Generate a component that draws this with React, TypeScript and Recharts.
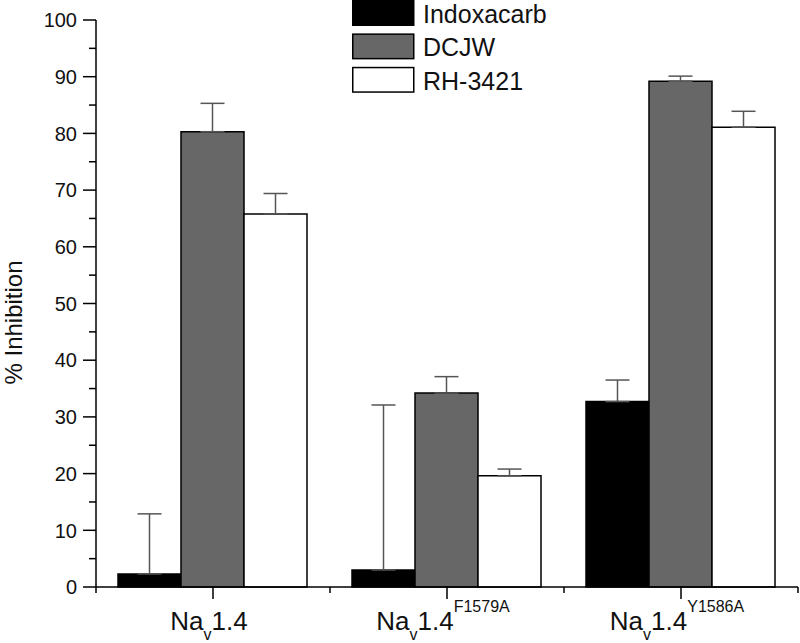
import { BarChart, Bar, XAxis, YAxis, ErrorBar, Legend } from "recharts";

const mutations = ["", "F1579A", "Y1586A"];
const seriesNames = ["Indoxacarb", "DCJW", "RH-3421"];

const indoxacarb = [2.3, 3.0, 32.7];
const indoxacarbErr = [10.6, 29.1, 3.8];
const dcjw = [80.3, 34.2, 89.2];
const dcjwErr = [5.0, 2.9, 0.9];
const rh3421 = [65.8, 19.6, 81.1];
const rh3421Err = [3.6, 1.2, 2.8];

const yTicks = [0, 5, 10, 15, 20, 25, 30, 35, 40, 45, 50, 55, 60, 65, 70, 75, 80, 85, 90, 95, 100];

const data = mutations.map((m, i) => ({
  name: m ? `Nav1.4 ${m}` : "Nav1.4",
  mutation: m,
  indoxacarb: indoxacarb[i],
  indoxacarbErr: [0, indoxacarbErr[i]],
  dcjw: dcjw[i],
  dcjwErr: [0, dcjwErr[i]],
  rh3421: rh3421[i],
  rh3421Err: [0, rh3421Err[i]],
}));

const FONT = "'Liberation Sans', Arial, sans-serif";

const YTick = (props: any) => {
  const { x, y, payload } = props;
  const major = payload.value % 10 === 0;
  return (
    <g>
      <line x1={x - (major ? 13 : 7)} x2={x} y1={y} y2={y} stroke="#000" strokeWidth={1.5} />
      {major && (
        <text x={x - 19} y={y} dy="0.36em" textAnchor="end" fontSize={20} fontFamily={FONT} fill="#111">
          {payload.value}
        </text>
      )}
    </g>
  );
};

// category label plus the short boundary ticks half a band either side
const XTick = (props: any) => {
  const { x, y, index, width, visibleTicksCount } = props;
  const m = mutations[index];
  const half = width / visibleTicksCount / 2;
  const axisY = y - 12;
  const last = index === visibleTicksCount - 1;
  return (
    <g>
      <line x1={x - half} x2={x - half} y1={axisY} y2={axisY + 6} stroke="#000" strokeWidth={1.5} />
      {last && <line x1={x + half} x2={x + half} y1={axisY} y2={axisY + 6} stroke="#000" strokeWidth={1.5} />}
      <text x={x - 4} y={y + 31} textAnchor="middle" fontFamily={FONT} fill="#111" fontSize={26}>
        <tspan>Na</tspan>
        <tspan fontSize={16} dy={10}>v</tspan>
        <tspan fontSize={26} dy={-10}>1.4</tspan>
        {m && (
          <tspan fontSize={16} dy={-18}>
            {m}
          </tspan>
        )}
      </text>
    </g>
  );
};

const LegendContent = (props: any) => {
  const items = [...(props.payload || [])].sort(
    (a: any, b: any) => seriesNames.indexOf(a.value) - seriesNames.indexOf(b.value)
  );
  return (
    <svg width={220} height={100}>
      {items.map((entry: any, i: number) => (
        <g key={entry.value}>
          <rect x={0.75} y={i * 33.4 + 0.75} width={61} height={24.5} fill={entry.color} stroke="#000" strokeWidth={1.5} />
          <text x={71} y={i * 33.4 + 23} fontSize={25} fontFamily={FONT} fill="#111">
            {entry.value}
          </text>
        </g>
      ))}
    </svg>
  );
};

export default function App() {
  return (
    <div style={{ position: "absolute", left: 0, top: 0, background: "#fff" }}>
      <BarChart
        width={800}
        height={643}
        data={data}
        margin={{ top: 20, right: 2, bottom: 0, left: 0 }}
        barCategoryGap={22}
        barGap={0}
      >
        <XAxis
          xAxisId="cat"
          dataKey="name"
          height={56}
          axisLine={{ stroke: "#000", strokeWidth: 1.5 }}
          tickLine={{ stroke: "#000", strokeWidth: 1.5 }}
          tickSize={12}
          tickMargin={0}
          tick={<XTick />}
          interval={0}
        />
        <YAxis
          domain={[0, 100]}
          ticks={yTicks}
          interval={0}
          width={96}
          tickSize={0}
          tickMargin={0}
          tickLine={false}
          axisLine={{ stroke: "#000", strokeWidth: 1.5 }}
          tick={<YTick />}
          label={(p: any) => {
            const vb = p.viewBox;
            const cx = 13;
            const cy = vb.y + vb.height / 2 + 19;
            return (
              <text
                x={cx}
                y={cy}
                transform={`rotate(-90, ${cx}, ${cy})`}
                textAnchor="middle"
                dominantBaseline="central"
                fontSize={24}
                fontFamily={FONT}
                fill="#111"
              >
                % Inhibition
              </text>
            );
          }}
        />
        <Legend
          layout="vertical"
          align="center"
          verticalAlign="middle"
          content={<LegendContent />}
          wrapperStyle={{ left: 352, top: 0, width: 220, height: 100 }}
        />
        <Bar xAxisId="cat" dataKey="indoxacarb" name={seriesNames[0]} fill="#000" stroke="#000" strokeWidth={1.5} isAnimationActive={false}>
          <ErrorBar dataKey="indoxacarbErr" direction="y" width={12} stroke="#555" strokeWidth={1.5} />
        </Bar>
        <Bar xAxisId="cat" dataKey="dcjw" name={seriesNames[1]} fill="#676767" stroke="#000" strokeWidth={1.5} isAnimationActive={false}>
          <ErrorBar dataKey="dcjwErr" direction="y" width={12} stroke="#555" strokeWidth={1.5} />
        </Bar>
        <Bar xAxisId="cat" dataKey="rh3421" name={seriesNames[2]} fill="#fff" stroke="#000" strokeWidth={1.5} isAnimationActive={false}>
          <ErrorBar dataKey="rh3421Err" direction="y" width={12} stroke="#555" strokeWidth={1.5} />
        </Bar>
      </BarChart>
    </div>
  );
}
